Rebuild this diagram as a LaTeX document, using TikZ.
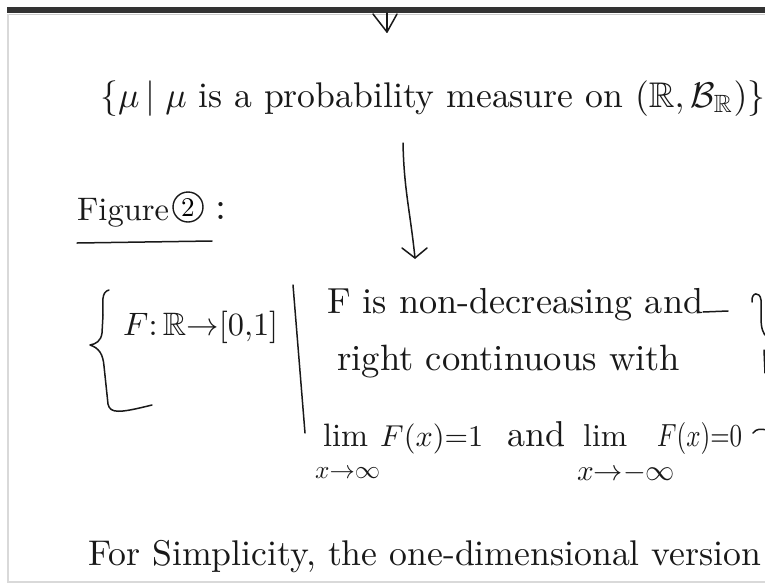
\documentclass[tikz,border=0pt]{standalone}
\usepackage{amssymb}
\usepackage{graphicx}
\begin{document}
\begin{tikzpicture}[x=1pt,y=-1pt,
  ink/.style={line width=1.5pt,line cap=round,line join=round,draw=black!90},
  txt/.style={anchor=base west,inner sep=0pt,text=black!90},
  frame/.style={draw=black!15,line width=1.2pt}]
\useasboundingbox (0,0) rectangle (765,584);
\clip (0,0) rectangle (765,584);
% window frame
\fill[black!80] (7,7) rectangle (765,13);
\draw[black!20,line width=0.8pt] (7,14) -- (765,14);
\draw[frame] (8,14) -- (8,582) -- (765,582);
% arrow tip at top
\coordinate (t0) at (387,13);
\coordinate (t1) at (387,32);
\coordinate (tl) at (373,14);
\coordinate (tr) at (397,14);
\draw[ink] (t0) -- (t1);
\draw[ink] (tl) -- (t1) -- (tr);
% line 1
\node[txt] (set1) at (100,107) {\resizebox{665pt}{!}{$\{\mu\,|\;\mu$ is a probability measure on $(\mathbb{R},\mathcal{B}_{\mathbb{R}})\}$}};
% main arrow
\coordinate (a1) at (403,143);
\coordinate (a2) at (415,258);
\coordinate (al) at (402,248);
\coordinate (ar) at (427,248);
\draw[ink] (a1) .. controls (404,190) and (410,210) .. (a2);
\draw[ink] (al) -- (a2) -- (ar);
% Figure 2
\node[txt] (fig) at (77,220) {\resizebox{92pt}{!}{Figure}};
\node[circle,draw=black!90,line width=1.4pt,minimum size=30pt,inner sep=0pt] (two) at (188,207) {\resizebox{!}{18pt}{2}};
\node[txt] (colon) at (215,219) {\resizebox{!}{17pt}{:}};
\draw[ink] (77,243) -- (212,241);
% left brace
\draw[ink] (109,290) .. controls (101,292) and (103,302) .. (103,315)
  -- (102,333) .. controls (101,341) and (96,344) .. (90,345)
  .. controls (99,348) and (103,354) .. (104,366)
  -- (108,404) .. controls (110,414) and (120,413) .. (152,405);
\node[txt] (map) at (123,335) {\resizebox{155pt}{!}{$F{:}\,\mathbb{R}{\rightarrow}[0{,}1]$}};
% separator bar
\draw[ink] (293,285) -- (305,433);
% conditions
\node[txt] (c1) at (327,313) {\resizebox{376pt}{!}{F is non-decreasing and}};
\draw[ink] (703,312) -- (728,311);
\node[txt] (c2) at (337,370) {\resizebox{343pt}{!}{right continuous with}};
\node[txt] (lim1) at (323,446) {\resizebox{45pt}{!}{lim}};
\node[txt] (f1) at (380,446) {\resizebox{103pt}{!}{$F(x){=}1$}};
\node[txt] (and) at (507,446) {\resizebox{58pt}{!}{and}};
\node[txt] (lim2) at (583,446) {\resizebox{44pt}{!}{lim}};
\node[txt] (f0) at (657,446) {\resizebox{85pt}{24pt}{$F(x){=}0$}};
\node[txt] (s1) at (315,478) {\resizebox{65pt}{!}{$x{\rightarrow}\infty$}};
\node[txt] (s2) at (577,480) {\resizebox{98pt}{!}{$x{\rightarrow}{-}\infty$}};
% right brace (partly outside)
\draw[ink] (752,302) .. controls (751,292) and (760,291) .. (761,300)
  -- (761,318) .. controls (761,328) and (763,334) .. (767,337);
\draw[ink] (764,350) -- (765,373);
\draw[ink] (753,433) .. controls (757,428) and (761,429) .. (767,430);
% bottom line
\node[txt] (bottom) at (88,565) {\resizebox{673pt}{!}{For Simplicity, the one-dimensional version}};
\end{tikzpicture}
\end{document}
